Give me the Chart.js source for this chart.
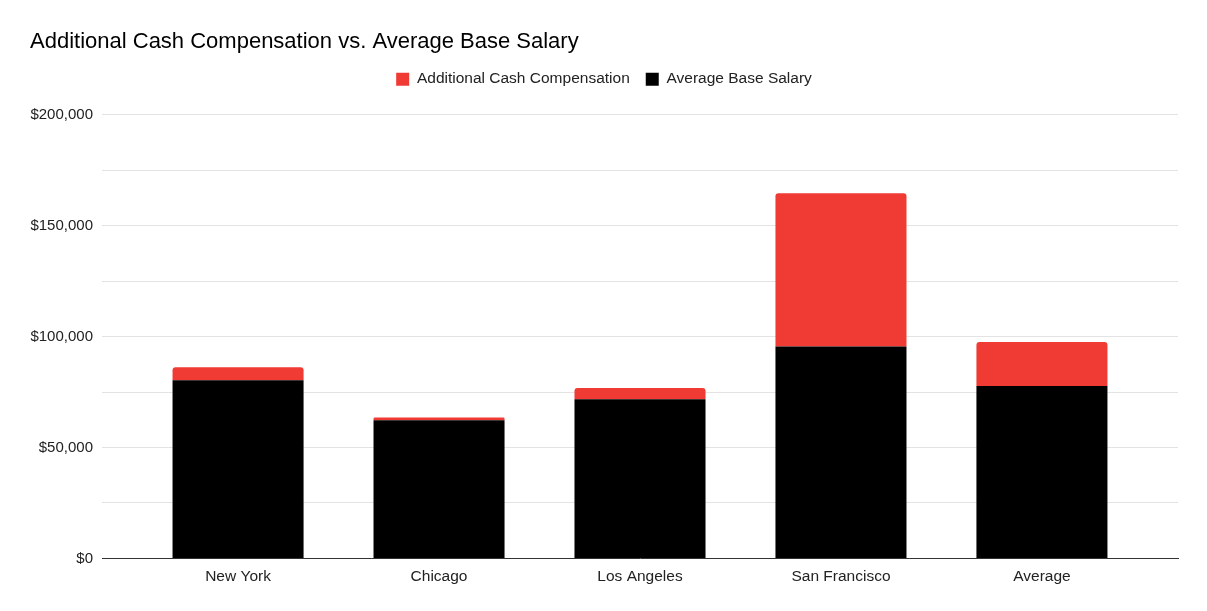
<!DOCTYPE html>
<html>
<head>
<meta charset="utf-8">
<script src="https://cdn.jsdelivr.net/npm/chart.js@4"></script>
<style>
html,body{margin:0;padding:0;background:#fff;}
#wrap{width:1207px;height:611px;}
</style>
</head>
<body>
<div id="wrap"><canvas id="c"></canvas></div>
<script>
const categories = ["New York", "Chicago", "Los Angeles", "San Francisco", "Average"];
const baseSalary = [80300, 62300, 71800, 95600, 77700];
const additionalCash = [5900, 1200, 5000, 69100, 19900];
const yTickLabels = ["$0", "$50,000", "$100,000", "$150,000", "$200,000"];

const FONT = "'Liberation Sans', Arial, Helvetica, sans-serif";
const toPoints = (arr) => arr.map((v, i) => ({ x: i, y: v }));

const legendSpacer = {
  id: 'legendSpacer',
  beforeInit(chart) {
    const origFit = chart.legend.fit;
    chart.legend.fit = function () {
      origFit.call(this);
      this.height += 18;
    };
  }
};

new Chart(document.getElementById('c'), {
  type: 'bar',
  plugins: [legendSpacer],
  data: {
    datasets: [
      {
        label: 'Average Base Salary',
        data: toPoints(baseSalary),
        backgroundColor: '#000000',
        categoryPercentage: 1,
        barPercentage: 0.652,
        borderRadius: 0,
        borderSkipped: false
      },
      {
        label: 'Additional Cash Compensation',
        data: toPoints(additionalCash),
        backgroundColor: '#f03a34',
        categoryPercentage: 1,
        barPercentage: 0.652,
        borderRadius: {topLeft: 3, topRight: 3, bottomLeft: 0, bottomRight: 0},
        borderSkipped: false
      }
    ]
  },
  options: {
    responsive: true,
    maintainAspectRatio: false,
    animation: false,
    layout: { padding: { left: 30, right: 29, top: 0, bottom: 24 } },
    plugins: {
      title: {
        display: true,
        text: 'Additional Cash Compensation vs. Average Base Salary',
        align: 'start',
        color: '#000',
        font: { family: FONT, size: 22, weight: 'normal' },
        padding: { top: 29, bottom: 0 }
      },
      legend: {
        reverse: true,
        labels: {
          color: '#222',
          font: { family: FONT, size: 15.5 },
          boxWidth: 13,
          boxHeight: 13,
          padding: 16
        }
      },
      tooltip: { enabled: false }
    },
    scales: {
      x: {
        type: 'linear',
        stacked: true,
        offset: false,
        min: -0.677,
        max: 4.677,
        grid: { display: false },
        border: { color: '#333', width: 1 },
        ticks: {
          stepSize: 1,
          includeBounds: false,
          autoSkip: false,
          maxRotation: 0,
          color: '#222',
          font: { family: FONT, size: 15.5 },
          padding: 1,
          callback: (v) => (Number.isInteger(v) && categories[v] !== undefined ? categories[v] : '')
        }
      },
      y: {
        stacked: true,
        min: 0,
        max: 200000,
        afterFit: (s) => { s.width = 72; },
        border: { display: false },
        grid: { color: '#e3e3e3', drawTicks: false, lineWidth: 1 },
        ticks: {
          stepSize: 25000,
          color: '#222',
          padding: 9,
          font: { family: FONT, size: 15 },
          callback: (v) => (v % 50000 === 0 ? yTickLabels[v / 50000] : '')
        }
      }
    }
  }
});
</script>
</body>
</html>
